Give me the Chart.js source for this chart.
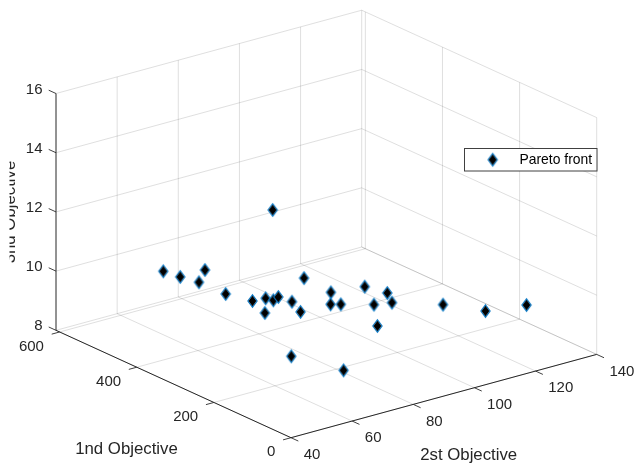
<!DOCTYPE html>
<html>
<head>
<meta charset="utf-8">
<script src="https://cdn.jsdelivr.net/npm/chart.js@4/dist/chart.umd.min.js"></script>
<style>html,body{margin:0;padding:0;background:#fff}canvas{display:block}</style>
</head>
<body>
<canvas id="c" width="636" height="464"></canvas>
<script>
// Data: three objectives of every point on the front
const objective1 = [504.9,489.5,473.3,448.2,426.9,397.3,393.9,363.4,389.9,386.4,377.3,343.2,418.1,226,406.5,373,351.6,341.7,370.8,337,329.4,329.6,271.4,283.5,240.9,180.4,157];
const objective2 = [61.9,65.5,69.6,68.4,72.5,77.5,81.4,77.3,83.4,84.6,87.9,86.4,97,68.6,85.3,100.1,97.3,99.4,110.9,114,108.7,114.6,102.5,125.5,134,139.8,77];
const objective3 = [10,9.8,9.6,10.2,9.4,9.2,9.2,9,9.1,9.2,9,8.9,9.3,8.6,12,9,8.8,8.8,8.9,8.8,8.6,8.5,8.4,8.4,8.2,8.6,8.3];
const ticks1 = [0,200,400,600];
const ticks2 = [40,60,80,100,120,140];
const ticks3 = [8,10,12,14,16];
const limit1 = 609.4;
const seriesName = 'Pareto front';
const label1 = '1nd Objective';
const label2 = '2st Objective';
const label3 = '3nd Objective';

// Fixed orthographic view of the 3-D box
const view = {ox:291, oy:437.7, ax:-0.3856, ay:-0.1762, bx:3.057, by:-0.833, cy:-29.6};
function project(a,b,c){
  return {x:view.ox+view.ax*a+view.bx*(b-40), y:view.oy+view.ay*a+view.by*(b-40)+view.cy*(c-8)};
}
const gap = {x:null,y:null};
function seg(list,p,q){ list.push(project(...p),project(...q),gap); }

const grid=[], axes=[], tickMarks=[];
const min2=ticks2[0], max2=ticks2[ticks2.length-1], min3=ticks3[0], max3=ticks3[ticks3.length-1];
ticks1.forEach(a=>{
  seg(grid,[a,min2,min3],[a,max2,min3]);
  seg(grid,[a,max2,min3],[a,max2,max3]);
  seg(tickMarks,[a,min2,min3],[a,min2-2.6,min3]);
});
ticks2.forEach(b=>{
  seg(grid,[0,b,min3],[limit1,b,min3]);
  if(b>min2) seg(grid,[limit1,b,min3],[limit1,b,max3]);
  seg(tickMarks,[0,b,min3],[-19,b,min3]);
});
ticks3.forEach(c=>{
  seg(grid,[limit1,min2,c],[limit1,max2,c]);
  seg(grid,[limit1,max2,c],[0,max2,c]);
  seg(tickMarks,[limit1,min2,c],[limit1+19,min2,c]);
});
seg(axes,[limit1,min2,min3],[limit1,min2,max3]);
seg(axes,[limit1,min2,min3],[0,min2,min3]);
seg(axes,[0,min2,min3],[0,max2,min3]);

const points = objective1.map((a,i)=>project(a,objective2[i],objective3[i]));

// MATLAB-style narrow diamond marker
const marker=document.createElement('canvas');
marker.width=13; marker.height=16;
(function(){
  const g=marker.getContext('2d');
  function diamond(hw,hh){ g.beginPath(); g.moveTo(6.5,8-hh); g.lineTo(6.5+hw,8); g.lineTo(6.5,8+hh); g.lineTo(6.5-hw,8); g.closePath(); }
  diamond(4.6,6.2);
  g.strokeStyle='#0a78c4'; g.lineWidth=1.2; g.stroke();
  diamond(3.9,5.2);
  g.fillStyle='#000'; g.fill();
})();

const textColor='#262626';
const textPlugin={
  id:'boxText',
  afterDatasetsDraw(chart){
    const g=chart.ctx;
    g.save();
    g.fillStyle=textColor;
    g.textBaseline='middle';
    g.font='15px "Liberation Sans"';
    g.textAlign='right';
    ticks3.forEach(c=>{const p=project(limit1,min2,c); g.fillText(String(c),p.x-13.5,p.y-4);});
    ticks1.forEach(a=>{const p=project(a,min2,min3); g.fillText(String(a),p.x-15.7,p.y+14.5);});
    g.textAlign='left';
    ticks2.forEach(b=>{const p=project(0,b,min3); g.fillText(String(b),p.x+12.7,p.y+17);});
    g.font='16.8px "Liberation Sans"';
    g.textAlign='center';
    g.fillText(label1,126.5,449.7);
    g.fillText(label2,468.7,455);
    g.save();
    g.beginPath(); g.rect(9.5,100,30,230); g.clip();
    g.translate(14.5,212);
    g.rotate(-Math.PI/2);
    g.textBaseline='alphabetic';
    g.fillText(label3,0,0);
    g.restore();
    // legend
    g.fillStyle='#fff';
    g.fillRect(465,148,132,23);
    g.strokeStyle='#404040';
    g.lineWidth=1;
    g.strokeRect(464.5,148.5,132.5,22.5);
    g.drawImage(marker,492.7-6.5,159.7-8);
    g.fillStyle='#000';
    g.font='13.9px "Liberation Sans"';
    g.textAlign='left';
    g.fillText(seriesName,519.5,160);
    g.restore();
  }
};

new Chart(document.getElementById('c'),{
  type:'scatter',
  data:{datasets:[
    {label:seriesName,data:points,pointStyle:marker,pointRadius:6,showLine:false},
    {label:'axes',data:axes,showLine:true,borderColor:'#262626',borderWidth:1,pointRadius:0,spanGaps:false},
    {label:'ticks',data:tickMarks,showLine:true,borderColor:'#404040',borderWidth:1,pointRadius:0,spanGaps:false},
    {label:'grid',data:grid,showLine:true,borderColor:'rgba(38,38,38,0.15)',borderWidth:1,pointRadius:0,spanGaps:false}
  ]},
  options:{
    responsive:false,animation:false,
    layout:{padding:0,autoPadding:false},
    plugins:{legend:{display:false},tooltip:{enabled:false}},
    scales:{
      x:{type:'linear',display:false,min:0,max:636},
      y:{type:'linear',display:false,min:0,max:464,reverse:true}
    }
  },
  plugins:[textPlugin]
});
</script>
</body>
</html>
